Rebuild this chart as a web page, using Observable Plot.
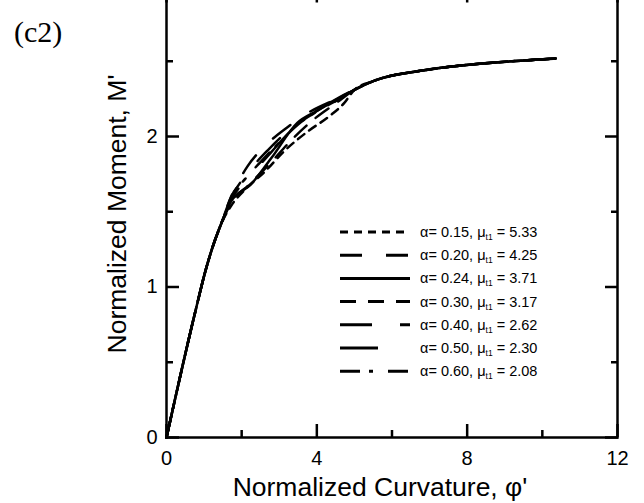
<!DOCTYPE html>
<html><head><meta charset="utf-8">
<script src="https://cdn.jsdelivr.net/npm/d3@7"></script>
<script src="https://cdn.jsdelivr.net/npm/@observablehq/plot@0.6"></script>
<style>
html,body{margin:0;padding:0;background:#fff;}
#wrap{position:relative;width:644px;height:503px;overflow:hidden;background:#fff;}
#wrap svg{position:absolute;left:0;top:-30px;z-index:1;}
#tag{position:absolute;left:14px;top:17px;z-index:2;font-family:"Liberation Serif","Times New Roman",serif;font-size:30px;line-height:1;color:#000;}
</style></head><body>
<div id="wrap"><div id="tag">(c2)</div></div>
<script>
// ---- data ----
const alphaLabels = ["0.15","0.20","0.24","0.30","0.40","0.50","0.60"];
const muLabels    = ["5.33","4.25","3.71","3.17","2.62","2.30","2.08"];

// shared elastic branch
const basePhi = [0, 0.77, 1.04, 1.26, 1.44];
const baseM   = [0, 0.84, 1.11, 1.29, 1.41];
// shared post-yield tail
const tailPhi = [5.0, 5.52, 6.85, 8.18, 9.51, 10.35];
const tailM   = [2.31, 2.37, 2.44, 2.48, 2.505, 2.518];

// individual middle branches
const phi015 = [1.72, 2.1, 2.63, 3.12, 3.74, 4.36, 4.72];
const m015   = [1.54, 1.65, 1.77, 1.9, 2.03, 2.14, 2.22];
const phi020 = [1.72, 2.15, 2.59, 3.21, 3.65, 4.36, 4.75];
const m020   = [1.6, 1.8, 1.93, 2.06, 2.14, 2.23, 2.27];
const phi024 = [1.72, 2.24, 2.8, 3.48, 4.0, 4.63];
const m024   = [1.57, 1.68, 1.86, 2.09, 2.17, 2.26];
const phi030 = [1.72, 2.2, 2.75, 3.3, 3.9, 4.5];
const m030   = [1.56, 1.68, 1.82, 1.97, 2.11, 2.22];
const phi040 = [1.72, 2.2, 2.7, 3.3, 3.7, 4.4];
const m040   = [1.59, 1.77, 1.91, 2.05, 2.12, 2.22];
const phi050 = [1.72, 2.2, 2.8, 3.4, 4.0, 4.6];
const m050   = [1.58, 1.73, 1.9, 2.06, 2.17, 2.26];
const phi060 = [1.72, 2.1, 2.5, 3.0, 3.5, 4.1, 4.6];
const m060   = [1.6, 1.72, 1.83, 1.96, 2.08, 2.18, 2.25];

const xMajor = [0, 4, 8, 12];
const xMinor = [2, 6, 10];
const yMajor = [0, 1, 2, 3];
const yMinor = [0.5, 1.5, 2.5];
const yLabels = [0, 1, 2];

// ---- styles ----
const dashStyles = ["8,6", "22,24", null, "16,12", "32,28,10,28", "38,36", "20,9,4,15"];
const mids = [[phi015,m015],[phi020,m020],[phi024,m024],[phi030,m030],[phi040,m040],[phi050,m050],[phi060,m060]];

function build(mid) {
  const P = [...basePhi, ...mid[0], ...tailPhi];
  const M = [...baseM, ...mid[1], ...tailM];
  return P.map((p, i) => ({phi: p, m: M[i]}));
}

const LW = 2.5;
const lineMarks = mids.map((mid, i) => Plot.line(build(mid), {
  x: "phi", y: "m", stroke: "black", strokeWidth: LW, curve: "monotone-x",
  strokeDasharray: dashStyles[i] || undefined
}));

const tickOpts = {label: null, tickFormat: () => "", strokeWidth: LW, stroke: "black"};
const fmt = d => String(d);

const chart = Plot.plot({
  width: 644, height: 533,
  marginTop: 15.5, marginBottom: 66, marginLeft: 166, marginRight: 27,
  x: {domain: [0, 12]},
  y: {domain: [0, 3]},
  style: {fontFamily: '"Liberation Sans", Arial, sans-serif', fontSize: "20px", color: "black", background: "white"},
  marks: [
    ...lineMarks,
    Plot.frame({stroke: "black", strokeWidth: LW}),
    Plot.axisX(xMajor, {anchor: "bottom", tickSize: 0, tickPadding: 13, label: null, fontSize: 20, tickFormat: fmt}),
    Plot.axisY(yLabels, {anchor: "left", tickSize: 0, tickPadding: 9, label: null, fontSize: 20, tickFormat: fmt}),
    Plot.axisX(xMajor, {...tickOpts, anchor: "bottom", tickSize: -13}),
    Plot.axisX(xMinor, {...tickOpts, anchor: "bottom", tickSize: -7}),
    Plot.axisX(xMajor, {...tickOpts, anchor: "top", tickSize: -16}),
    Plot.axisX(xMinor, {...tickOpts, anchor: "top", tickSize: -7}),
    Plot.axisY(yMajor, {...tickOpts, anchor: "left", tickSize: -13}),
    Plot.axisY(yMinor, {...tickOpts, anchor: "left", tickSize: -7}),
    Plot.axisY(yMajor, {...tickOpts, anchor: "right", tickSize: -13}),
    Plot.axisY(yMinor, {...tickOpts, anchor: "right", tickSize: -7})
  ]
});

document.getElementById("wrap").appendChild(chart);

// titles and legend
const svg = d3.select(chart);
const sans = '"Liberation Sans", Arial, sans-serif';
svg.append("text").attr("x", 380).attr("y", 526).attr("text-anchor", "middle")
  .attr("font-family", sans).attr("font-size", 26.5).attr("fill", "black")
  .text("Normalized Curvature, φ'");
svg.append("text").attr("transform", "translate(126,244) rotate(-90)").attr("text-anchor", "middle")
  .attr("font-family", sans).attr("font-size", 26.5).attr("fill", "black")
  .text("Normalized Moment, M'");

const lg = svg.append("g").attr("font-family", sans).attr("font-size", 14.5).attr("fill", "black")
  .attr("text-anchor", "start");
alphaLabels.forEach((a, i) => {
  const y = 30 + 232 + i * 23.2;
  const ln = lg.append("line").attr("x1", 340).attr("x2", 410).attr("y1", y).attr("y2", y)
    .attr("stroke", "black").attr("stroke-width", 3);
  if (dashStyles[i]) ln.attr("stroke-dasharray", dashStyles[i]);
  const t = lg.append("text").attr("x", 420).attr("y", y + 5).attr("text-anchor", "start");
  t.append("tspan").text(`α= ${a}, μ`);
  t.append("tspan").attr("font-size", 8.5).attr("dy", 3).text("t1");
  t.append("tspan").attr("dy", -3).text(` = ${muLabels[i]}`);
});
</script>
</body></html>
